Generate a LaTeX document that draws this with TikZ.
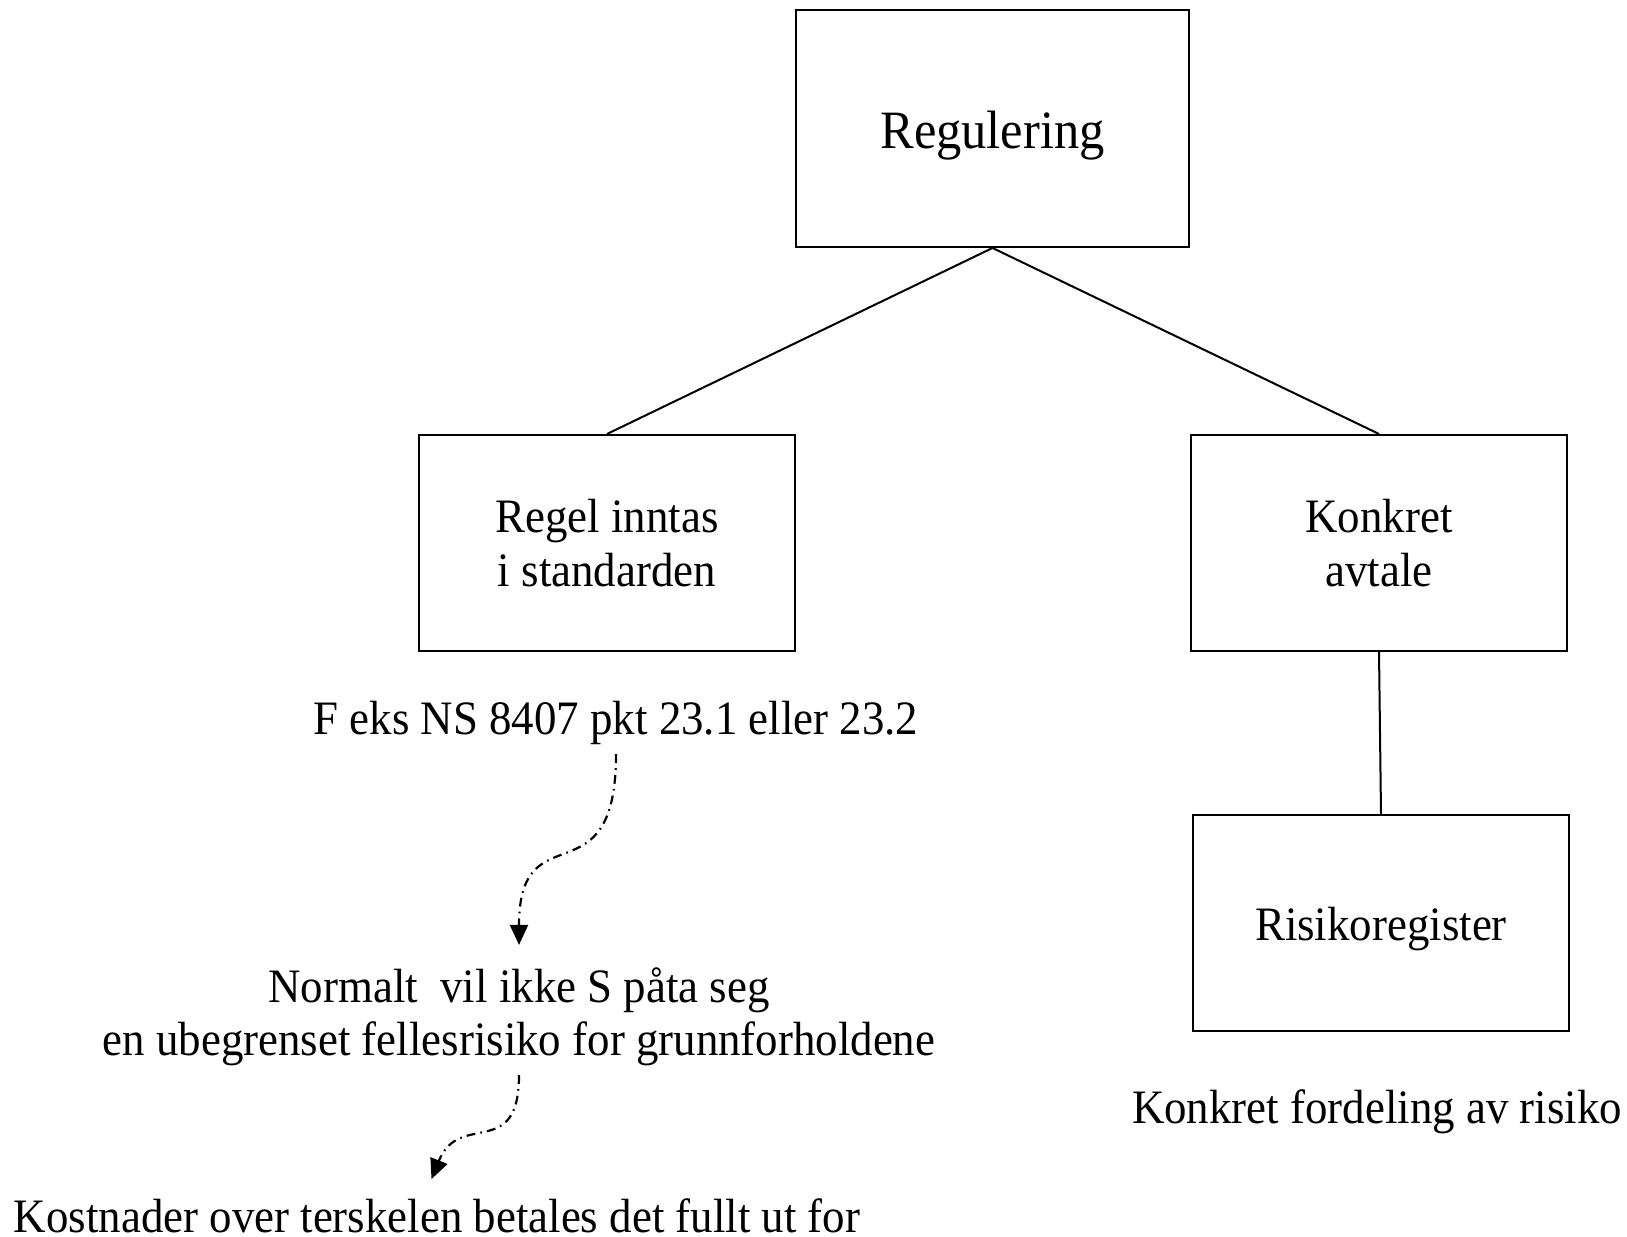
\documentclass[tikz,border=0pt]{standalone}
\usepackage{fontspec}
\setmainfont[FakeStretch=0.935]{Liberation Serif}
\usepackage{tikz}
\usetikzlibrary{arrows.meta,positioning}

\begin{document}
\begin{tikzpicture}[x=0.25pt,y=0.25pt,node distance=98.5pt,line width=0.5pt]
  \tikzstyle{boxNode}=[draw,minimum width=94pt,minimum height=54pt,align=center,font=\fontsize{12}{13.5}\selectfont]
  \tikzstyle{noteText}=[inner sep=2pt,align=center,font=\fontsize{12}{13.25}\selectfont]
  \tikzstyle{dashArrow}=[-{Triangle[length=5pt,width=4.5pt]},line width=0.55pt,dash pattern=on 2.2pt off 1.3pt on 0.4pt off 1.3pt]
  \useasboundingbox (0,0) rectangle (1627,-1237);
  \node[boxNode,minimum width=98.25pt,minimum height=59.25pt,text height=10pt,text depth=0pt,font=\fontsize{13.5}{16}\selectfont] (reg) at (992.5,-128.5) {Regulering};
  \node[boxNode] (regel) at (607,-543) {Regel inntas\\i standarden};
  \node[boxNode,right=of regel] (konkret) {Konkret\\avtale};
  \node[boxNode,below=40.5pt of konkret,xshift=0.5pt,text height=9pt,text depth=0pt] (risiko) {Risikoregister};
  \node[noteText,anchor=base] (feks) at (616,-735) {F eks NS 8407 pkt 23.1 eller 23.2};
  \node[noteText] (normalt) at (519,-1017) {Normalt\ \ vil ikke S påta seg\\en ubegrenset fellesrisiko for grunnforholdene};
  \node[noteText,anchor=base] (fordeling) at (1377,-1124) {Konkret fordeling av risiko};
  \node[noteText,anchor=base] (kostnader) at (437,-1233) {Kostnader over terskelen betales det fullt ut for};
  \draw (reg.south) -- (regel.north);
  \draw (reg.south) -- (konkret.north);
  \draw (konkret.south) -- (risiko.north);
  \draw[dashArrow,shorten >=3.5pt] (feks.south) to[out=-90,in=90,looseness=1.7] (normalt.north);
  \draw[dashArrow,shorten >=3pt] (normalt.south) to[out=-90,in=68,looseness=1.5] ([xshift=-2.5pt]kostnader.north);
\end{tikzpicture}
\end{document}
